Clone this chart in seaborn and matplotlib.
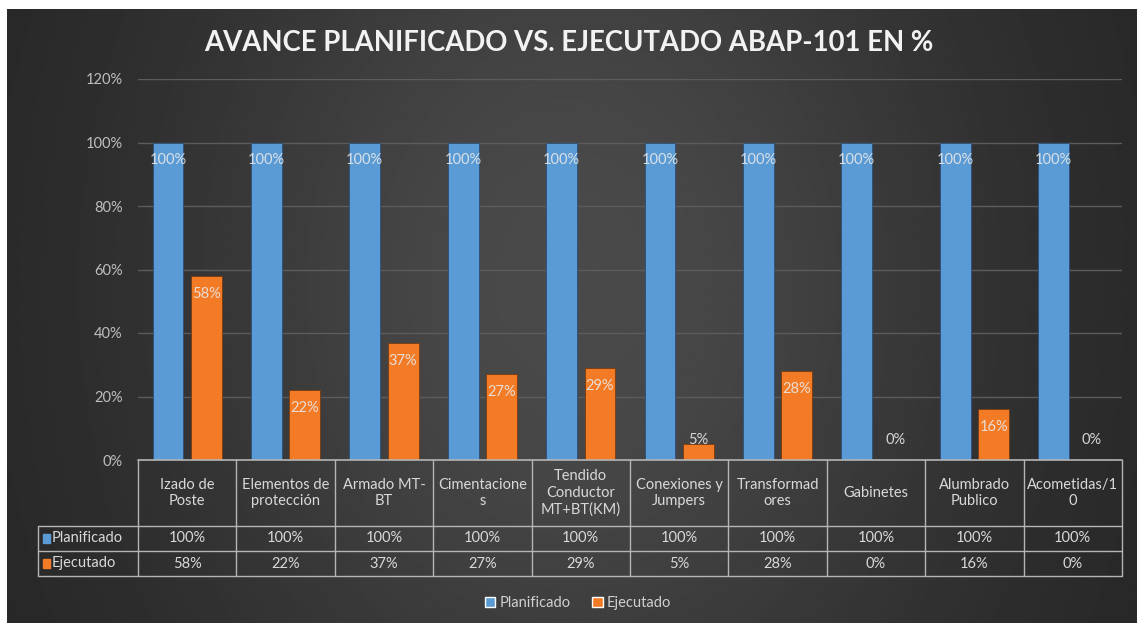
import numpy as np
import pandas as pd
import matplotlib.pyplot as plt
import seaborn as sns
from matplotlib.patches import Patch, Rectangle
from matplotlib.transforms import blended_transform_factory

# Datos del gráfico
categorias = ["Izado de Poste", "Elementos de protección", "Armado MT-BT", "Cimentaciones",
              "Tendido Conductor MT+BT(KM)", "Conexiones y Jumpers", "Transformadores",
              "Gabinetes", "Alumbrado Publico", "Acometidas/10"]
etiquetas_tabla = ["Izado de\nPoste", "Elementos de\nprotección", "Armado MT-\nBT", "Cimentacione\ns",
                   "Tendido\nConductor\nMT+BT(KM)", "Conexiones y\nJumpers", "Transformad\nores",
                   "Gabinetes", "Alumbrado\nPublico", "Acometidas/1\n0"]
planificado = [1.00, 1.00, 1.00, 1.00, 1.00, 1.00, 1.00, 1.00, 1.00, 1.00]
ejecutado = [0.58, 0.22, 0.37, 0.27, 0.29, 0.05, 0.28, 0.00, 0.16, 0.00]
series = ["Planificado", "Ejecutado"]
colores = ["#5B9BD5", "#F47B25"]
titulo = "AVANCE PLANIFICADO VS. EJECUTADO ABAP-101 EN %"
yticks = [0, 0.2, 0.4, 0.6, 0.8, 1.0, 1.2]

df = pd.DataFrame({
    "categoria": categorias * 2,
    "serie": ["Planificado"] * len(categorias) + ["Ejecutado"] * len(categorias),
    "valor": planificado + ejecutado,
})

sns.set_style("dark")
plt.rcParams['font.family'] = ['Lato', 'DejaVu Sans']

W, H = 1137, 623
fig = plt.figure(figsize=(W / 100, H / 100), dpi=100, facecolor="white")

# Fondo con degradado (más claro al centro)
bg = fig.add_axes([7 / W, 0, 1 - 7 / W, 1 - 9 / H], zorder=-5)
gx, gy = np.meshgrid(np.linspace(0, 1, 400), np.linspace(0, 1, 220))
grad = 0.14 + 0.15 * np.exp(-(((gx - 0.5) / 0.38) ** 2 + ((gy - 0.45) / 0.9) ** 2))
bg.imshow(grad, cmap="gray", vmin=0, vmax=1, aspect="auto", extent=[0, 1, 0, 1])
bg.set_axis_off()

# Eje principal
x0, x1, ytop, ybot = 138, 1122, 79, 460
ax = fig.add_axes([x0 / W, (H - ybot) / H, (x1 - x0) / W, (ybot - ytop) / H])
ax.set_facecolor("none")

sns.barplot(data=df, x="categoria", y="valor", hue="serie", hue_order=series,
            palette=colores, saturation=1, width=0.78, gap=0.2, ax=ax, legend=False,
            edgecolor="#2b4f78", linewidth=0.6, zorder=3)
for bar in ax.containers[1]:
    bar.set_edgecolor("#7a3a10")

fs = 10.5
ax.set_ylim(0, 1.2)
ax.set_xlim(-0.5, len(categorias) - 0.5)
ax.set_yticks(yticks)
ax.set_yticklabels([f"{v:.0%}" for v in yticks], color="#bfbfbf", fontsize=fs)
ax.set_xticks([])
ax.set_xlabel("")
ax.set_ylabel("")
ax.tick_params(axis="y", length=0, pad=11)
ax.grid(axis="y", color="#5c5c5c", linewidth=1, zorder=0)
for s in ax.spines.values():
    s.set_visible(False)

# Etiquetas de datos
px_per_unit = (ybot - ytop) / 1.2
for cont in ax.containers:
    for bar in cont:
        v = bar.get_height()
        y_lab = v - 18 / px_per_unit
        y_lab = max(y_lab, 20 / px_per_unit)
        ax.text(bar.get_x() + bar.get_width() / 2, y_lab, f"{v:.0%}", ha="center", va="center",
                color="#e8e8e8", fontsize=fs, alpha=0.9, zorder=5)

# Tabla de datos bajo el gráfico
tr = blended_transform_factory(ax.transData, ax.transAxes)
ah = ybot - ytop
h_head = (526 - 460) / ah
h_row = (551 - 526) / ah
x_left = -0.5 - (138 - 38) / ((x1 - x0) / len(categorias))
x_right = len(categorias) - 0.5
lc = "#b5b5b5"
ylines = [0, -h_head, -h_head - h_row, -h_head - 2 * h_row]
ax.plot([-0.5, x_right], [0, 0], color=lc, lw=1.2, transform=tr, clip_on=False, zorder=6)
for yl in ylines[1:]:
    ax.plot([x_left, x_right], [yl, yl], color=lc, lw=1, transform=tr, clip_on=False)
for i in range(len(categorias) + 1):
    ax.plot([i - 0.5, i - 0.5], [0, ylines[-1]], color=lc, lw=1, transform=tr, clip_on=False)
ax.plot([x_left, x_left], [ylines[1], ylines[-1]], color=lc, lw=1, transform=tr, clip_on=False)

txt = "#d9d9d9"
for i, lab in enumerate(etiquetas_tabla):
    ax.text(i, -h_head / 2, lab, ha="center", va="center", color=txt, fontsize=fs,
            linespacing=1.25, transform=tr, clip_on=False)
    ax.text(i, -h_head - h_row / 2, f"{planificado[i]:.0%}", ha="center", va="center",
            color=txt, fontsize=fs, transform=tr, clip_on=False)
    ax.text(i, -h_head - 1.5 * h_row, f"{ejecutado[i]:.0%}", ha="center", va="center",
            color=txt, fontsize=fs, transform=tr, clip_on=False)

sq_w = 0.07
for k, (nombre, col) in enumerate(zip(series, colores)):
    yc = -h_head - (k + 0.5) * h_row
    ax.add_patch(Rectangle((x_left + 0.05, yc - 0.012), sq_w, 0.024, color=col,
                           transform=tr, clip_on=False))
    ax.text(x_left + 0.05 + sq_w + 0.02, yc, nombre, ha="left", va="center", color=txt,
            fontsize=fs, transform=tr, clip_on=False)

# Título
fig.text(0.5, 1 - 43 / H, titulo, ha="center", va="center", color="#f2f2f2",
         fontsize=19.8, fontweight="bold")

# Leyenda
handles = [Patch(facecolor=c, label=n) for n, c in zip(series, colores)]
fig.legend(handles=handles, loc="center", bbox_to_anchor=(578 / W, (H - 603) / H), ncol=2,
           frameon=False, fontsize=fs, labelcolor="#d0d0d0", handlelength=0.7,
           handleheight=0.7, handletextpad=0.3, columnspacing=1.5)

fig.savefig("out.png", dpi=100, facecolor=fig.get_facecolor())
